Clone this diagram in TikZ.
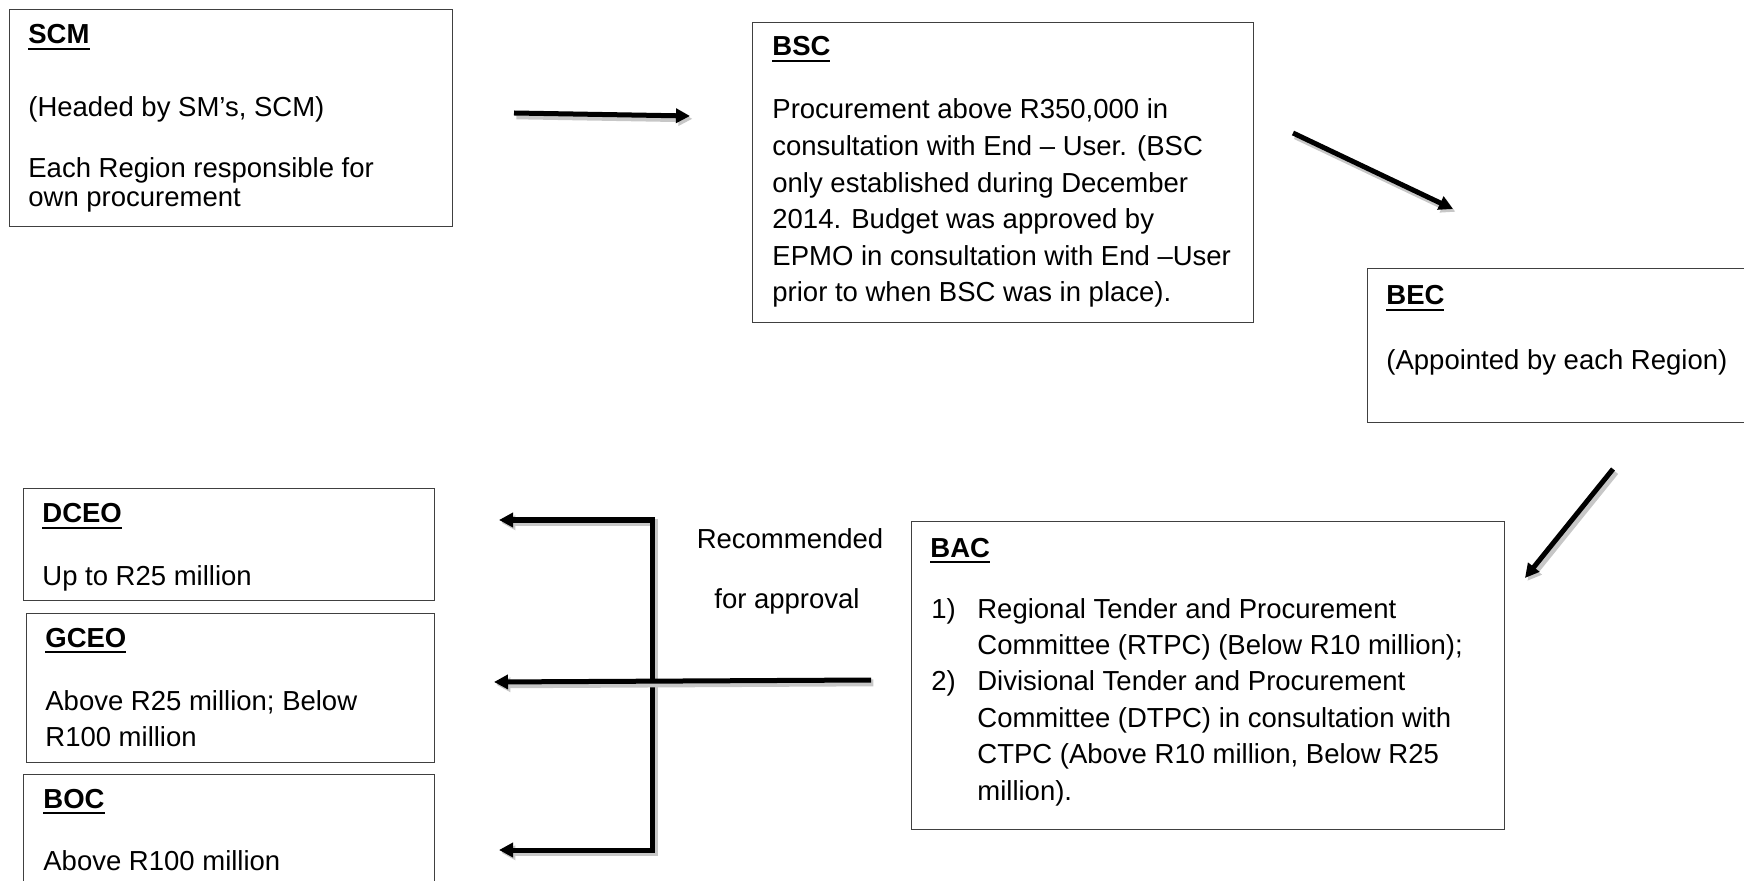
\documentclass[tikz,border=0pt]{standalone}
\usepackage{fontspec}
\setmainfont{Liberation Sans}
\usetikzlibrary{arrows.meta}
\tikzset{>={Triangle[length=7pt,width=7pt]}}
\newsavebox\headbox
\newcommand\head[1]{\sbox\headbox{\textbf{#1}}%
  \usebox\headbox\llap{\rule[-3.2pt]{\wd\headbox}{1.3pt}}}
\newcommand\lines[1]{\parbox[t]{300pt}{\raggedright #1}}
\tikzset{
  box/.style={draw=black!75,line width=0.7pt,anchor=north west,inner sep=0pt},
  txt/.style={anchor=base west,inner sep=0pt,
    font=\fontsize{13.75}{18.3}\selectfont},
  mid/.style={txt,anchor=base},
  arr/.style={line width=2.5pt,line cap=butt,
    preaction={draw=black!22,line width=3.5pt,
      transform canvas={shift={(1.2pt,-1.4pt)}}}},
}

\begin{document}
\begin{tikzpicture}[x=0.5pt,y=-0.5pt]

  % page
  \useasboundingbox (0,0) rectangle (1744,881);
  \clip (0,0) rectangle (1744,881);

  % boxes
  \node[box,minimum width=221.5pt,minimum height=108.5pt] (scm) at (9,9) {};
  \node[box,minimum width=250.5pt,minimum height=150pt] (bsc) at (752,22) {};
  \node[box,minimum width=191.5pt,minimum height=77pt] (bec) at (1367,268) {};
  \node[box,minimum width=296.5pt,minimum height=154pt] (bac) at (911,521) {};
  \node[box,minimum width=205.5pt,minimum height=56pt] (dceo) at (23,488) {};
  \node[box,minimum width=204pt,minimum height=74.5pt] (gceo) at (26,613) {};
  \node[box,minimum width=205.5pt,minimum height=63pt] (boc) at (23,774) {};

  % texts
  \node[txt] (scm-h) at (28,44) {\head{SCM}};
  \node[txt] (scm-a) at (28,117) {(Headed by SM’s, SCM)};
  \node[txt,font=\fontsize{13.75}{14.5}\selectfont] (scm-b) at (28,178)
    {\lines{Each Region responsible for\\own procurement}};

  \node[txt] (bsc-h) at (772,56) {\head{BSC}};
  \node[txt] (bsc-a) at (772,119) {\lines{Procurement above R350,000 in\\
    consultation with End -- User. (BSC\\
    only established during December\\
    2014. Budget was approved by\\
    EPMO in consultation with End --User\\
    prior to when BSC was in place).}};

  \node[txt] (bec-h) at (1386,305) {\head{BEC}};
  \node[txt] (bec-a) at (1386,370) {(Appointed by each Region)};

  \node[txt] (bac-h) at (930,557) {\head{BAC}};
  \node[txt,font=\fontsize{13.75}{18.2}\selectfont] (bac-a) at (931,618)
    {\lines{\makebox[23pt][l]{1)}Regional Tender and Procurement\\
    \hspace*{23pt}Committee (RTPC) (Below R10 million);\\
    \makebox[23pt][l]{2)}Divisional Tender and Procurement\\
    \hspace*{23pt}Committee (DTPC) in consultation with\\
    \hspace*{23pt}CTPC (Above R10 million, Below R25\\
    \hspace*{23pt}million).}};

  \node[txt] (dceo-h) at (42,523) {\head{DCEO}};
  \node[txt] (dceo-a) at (42,585) {Up to R25 million};
  \node[txt] (gceo-h) at (45,647) {\head{GCEO}};
  \node[txt,font=\fontsize{13.75}{18}\selectfont] (gceo-a) at (45,710)
    {\lines{Above R25 million; Below\\R100 million}};
  \node[txt] (boc-h) at (43,808) {\head{BOC}};
  \node[txt] (boc-a) at (43,870) {Above R100 million};

  \node[mid] (rec1) at (790,548) {Recommended};
  \node[mid] (rec2) at (787,608) {for approval};

  % arrow ends
  \coordinate (scm-out) at (514,113);
  \coordinate (bsc-in) at (690,116);
  \coordinate (bsc-out) at (1293,133);
  \coordinate (bec-in) at (1453,209);
  \coordinate (bec-out) at (1613,469);
  \coordinate (bac-in) at (1525,578);
  \coordinate (bac-out) at (871,680);
  \coordinate (gceo-in) at (494,682);
  \coordinate (bar-top) at (652,520);
  \coordinate (bar-bot) at (652,850);
  \coordinate (dceo-in) at (499,520);
  \coordinate (boc-in) at (499,850);

  % arrows
  \draw[arr,->] (scm-out) -- (bsc-in);
  \draw[arr,->] (bsc-out) -- (bec-in);
  \draw[arr,->] (bec-out) -- (bac-in);
  \draw[arr,<->] (dceo-in) -- (bar-top) -- (bar-bot) -- (boc-in);
  \draw[arr,->] (bac-out) -- (gceo-in);

\end{tikzpicture}
\end{document}
